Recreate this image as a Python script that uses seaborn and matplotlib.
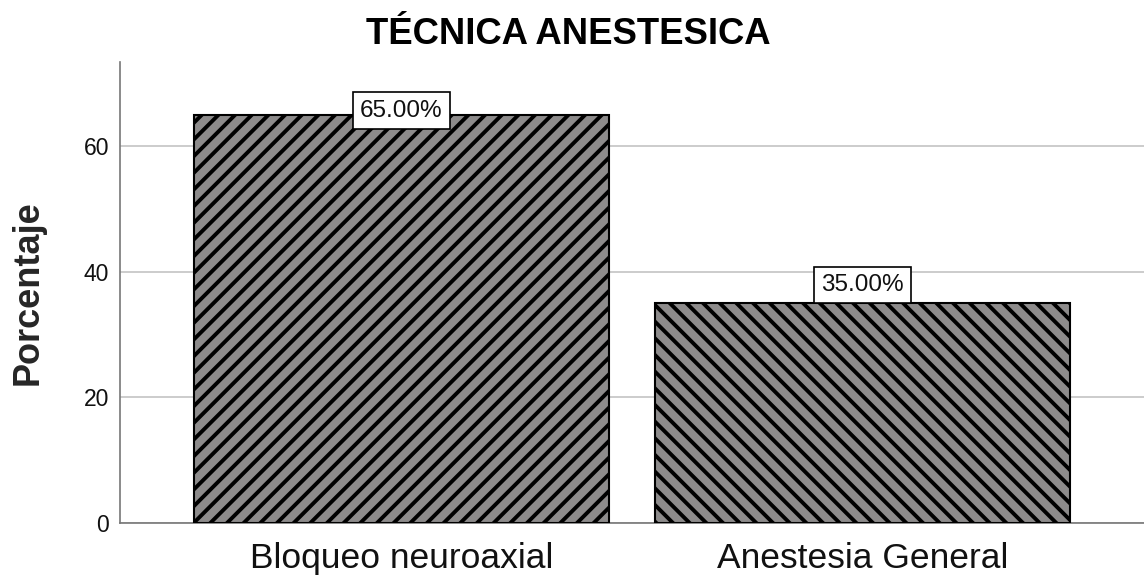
import matplotlib
matplotlib.use("Agg")
import matplotlib.pyplot as plt
import seaborn as sns
import pandas as pd

categories = ["Bloqueo neuroaxial", "Anestesia General"]
values = [65.0, 35.0]
labels = ["65.00%", "35.00%"]
yticks = [0, 20, 40, 60]

# style: vertical offset (points) of each value-label centre above the bar top
label_offsets_pt = [3, 13]

sns.set_theme(style="white")
plt.rcParams["font.family"] = ["Liberation Sans", "DejaVu Sans"]
plt.rcParams["hatch.linewidth"] = 2.8
plt.rcParams["hatch.color"] = "black"

fig = plt.figure(figsize=(11.44, 5.79), dpi=100)
ax = fig.add_axes([0.1049, 0.0967, 0.8951, 0.7963])

df = pd.DataFrame({"cat": categories, "val": values})
sns.barplot(data=df, x="cat", y="val", ax=ax, color="#8d8b8b", width=0.9,
            edgecolor="black", linewidth=1.5, saturation=1, zorder=3)
hatches = ["//", "\\\\"]
for p, h in zip(ax.patches, hatches):
    p.set_hatch(h)
    p.set_facecolor("#8d8b8b")

ax.set_xlim(-0.61, 1.61)
ax.set_ylim(0, 73.4)
ax.set_yticks(yticks)
ax.yaxis.grid(True, color="#cccccc", linewidth=1.4, zorder=0)
ax.set_axisbelow(True)
for s in ["top", "right"]:
    ax.spines[s].set_visible(False)
for s in ["left", "bottom"]:
    ax.spines[s].set_color("#777777")
    ax.spines[s].set_linewidth(1.2)
ax.tick_params(axis="y", labelsize=16.5, length=0, pad=8, colors="#111111")
ax.tick_params(axis="x", labelsize=25.5, length=0, pad=14, colors="#111111")

for i, (v, lab, off) in enumerate(zip(values, labels, label_offsets_pt)):
    ax.annotate(lab, xy=(i, v), xytext=(0, off), textcoords="offset points",
                ha="center", va="center", fontsize=17.5, color="#111111",
                bbox=dict(boxstyle="square,pad=0.3", facecolor="white", edgecolor="black", linewidth=1.2),
                zorder=5)

ax.set_xlabel("")
ax.set_ylabel("Porcentaje", fontsize=26, fontweight="bold", labelpad=27)
fig.text(0.497, 0.94, "TÉCNICA ANESTESICA", ha="center", va="center", fontsize=26.3, fontweight="bold", color="black")

fig.savefig("out.png", dpi=100)
